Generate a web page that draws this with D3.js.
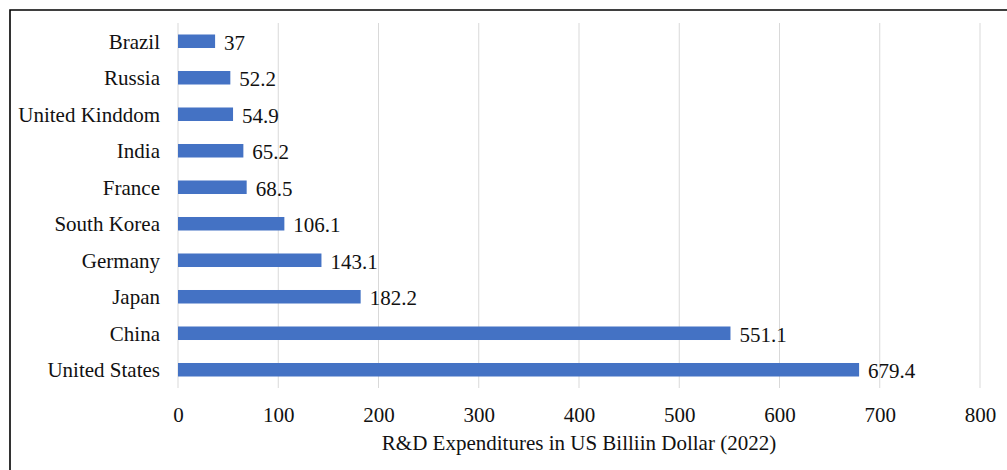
<!DOCTYPE html>
<html>
<head>
<meta charset="utf-8">
<script src="https://cdn.jsdelivr.net/npm/d3@7"></script>
<style>
  html, body { margin: 0; padding: 0; background: #fff; }
  svg { display: block; }
  text { font-family: "Liberation Serif", "Times New Roman", serif; fill: #111; }
</style>
</head>
<body>
<svg id="chart" width="1007" height="470"></svg>
<script>
// R&D expenditures by country, 2022 (US$ billion)
const countries = ["Brazil", "Russia", "United Kinddom", "India", "France",
                   "South Korea", "Germany", "Japan", "China", "United States"];
const values = [37, 52.2, 54.9, 65.2, 68.5, 106.1, 143.1, 182.2, 551.1, 679.4];
const xTicks = [0, 100, 200, 300, 400, 500, 600, 700, 800];
const xTitle = "R&D Expenditures in US Billiin Dollar (2022)";

const svg = d3.select("#chart");
const W = 1007, H = 470;
const plot = { left: 178, right: 980, top: 23, bottom: 388 };
const fontSize = 21;

// chart frame: only top and left edges are visible
svg.append("path")
  .attr("d", `M10,${H} L10,10 L${W},10`)
  .attr("fill", "none")
  .attr("stroke", "#000")
  .attr("stroke-width", 1.6);

const x = d3.scaleLinear().domain([0, 800]).range([plot.left, plot.right]);
const y = d3.scaleBand().domain(countries).range([plot.top, plot.bottom]).paddingInner(0.63).paddingOuter(0.315);

// vertical gridlines
svg.append("g")
  .selectAll("line")
  .data(xTicks)
  .join("line")
  .attr("x1", d => x(d)).attr("x2", d => x(d))
  .attr("y1", plot.top).attr("y2", plot.bottom)
  .attr("stroke", "#d9d9d9")
  .attr("stroke-width", 1);

// x axis tick labels
const xAxis = d3.axisBottom(x).tickValues(xTicks).tickSize(0).tickPadding(0);
const gx = svg.append("g").attr("transform", `translate(0,${plot.bottom + 19})`).call(xAxis);
gx.select(".domain").remove();
gx.selectAll("text")
  .attr("font-size", fontSize)
  .attr("font-family", "Liberation Serif, Times New Roman, serif")
  .attr("fill", "#111")
  .attr("dy", "0.71em");

// category labels
const yAxis = d3.axisLeft(y).tickSize(0).tickPadding(18);
const gy = svg.append("g").attr("transform", `translate(${plot.left},1)`).call(yAxis);
gy.select(".domain").remove();
gy.selectAll("text")
  .attr("font-size", fontSize)
  .attr("font-family", "Liberation Serif, Times New Roman, serif")
  .attr("fill", "#111");

// bars
svg.append("g")
  .selectAll("rect")
  .data(countries)
  .join("rect")
  .attr("x", x(0))
  .attr("y", d => y(d))
  .attr("width", (d, i) => x(values[i]) - x(0))
  .attr("height", y.bandwidth())
  .attr("fill", "#4472c4");

// value labels
svg.append("g")
  .selectAll("text")
  .data(countries)
  .join("text")
  .attr("x", (d, i) => x(values[i]) + 9)
  .attr("y", d => y(d) + y.bandwidth() / 2 + 1)
  .attr("dy", "0.35em")
  .attr("font-size", fontSize)
  .text((d, i) => values[i]);

// axis title
svg.append("text")
  .attr("x", (plot.left + plot.right) / 2)
  .attr("y", 443)
  .attr("dy", "0.35em")
  .attr("text-anchor", "middle")
  .attr("font-size", fontSize)
  .text(xTitle);
</script>
</body>
</html>
